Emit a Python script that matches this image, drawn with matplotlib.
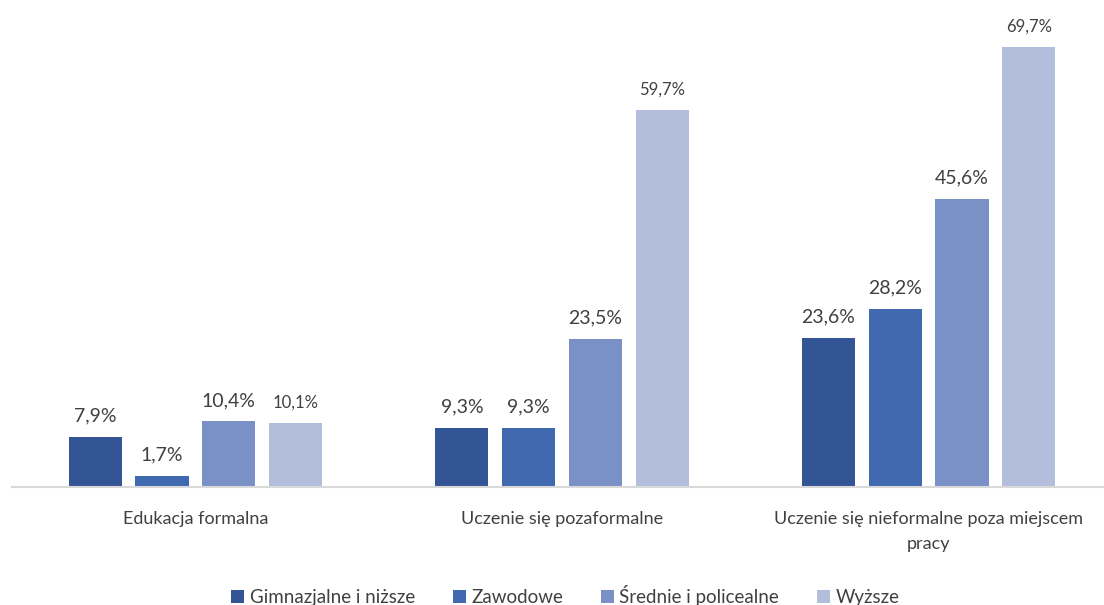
import matplotlib
matplotlib.use("Agg")
import matplotlib.pyplot as plt
import numpy as np

plt.rcParams["font.family"] = ["Lato", "DejaVu Sans"]

categories = ["Edukacja formalna", "Uczenie się pozaformalne",
              "Uczenie się nieformalne poza miejscem\npracy"]
series = ["Gimnazjalne i niższe", "Zawodowe", "Średnie i policealne", "Wyższe"]
values = [
    [7.9, 9.3, 23.6],
    [1.7, 9.3, 28.2],
    [10.4, 23.5, 45.6],
    [10.1, 59.7, 69.7],
]
colors = ["#335495", "#4169B0", "#7A91C8", "#B3BEDD"]
# the last series has its labels set smaller
label_sizes = [14, 14, 14, 12]

fig = plt.figure(figsize=(11.04, 6.05), dpi=100)
ax = fig.add_axes([12 / 1104, 0.195, 1100 / 1104, 0.782])

x = np.arange(len(categories))
step = 0.182
width = 0.145
for i, (name, vals) in enumerate(zip(series, values)):
    pos = x + (i - 1.5) * step
    bars = ax.bar(pos, vals, width, color=colors[i], label=name)
    for b, v in zip(bars, vals):
        ax.annotate(f"{v:.1f}%".replace(".", ","),
                    (b.get_x() + b.get_width() / 2, v),
                    xytext=(0, 9), textcoords="offset points",
                    ha="center", va="bottom", fontsize=label_sizes[i],
                    color="#404040")

ax.set_xlim(-0.5, 2.5)
ax.set_ylim(0, 75)
ax.set_xticks(x)
ax.set_xticklabels(categories, fontsize=13, color="#404040", linespacing=1.75)
ax.tick_params(axis="x", length=0, pad=17)
ax.set_yticks([])
for s in ["top", "right", "left"]:
    ax.spines[s].set_visible(False)
ax.spines["bottom"].set_color("#D9D9D9")
ax.spines["bottom"].set_linewidth(1.5)

fig.legend(loc="lower center", bbox_to_anchor=(0.512, -0.03), ncol=4,
           frameon=False, fontsize=13.5, handlelength=0.7, handleheight=0.7,
           handletextpad=0.3, columnspacing=2.0, labelcolor="#404040")

fig.savefig("out.png", dpi=100)
